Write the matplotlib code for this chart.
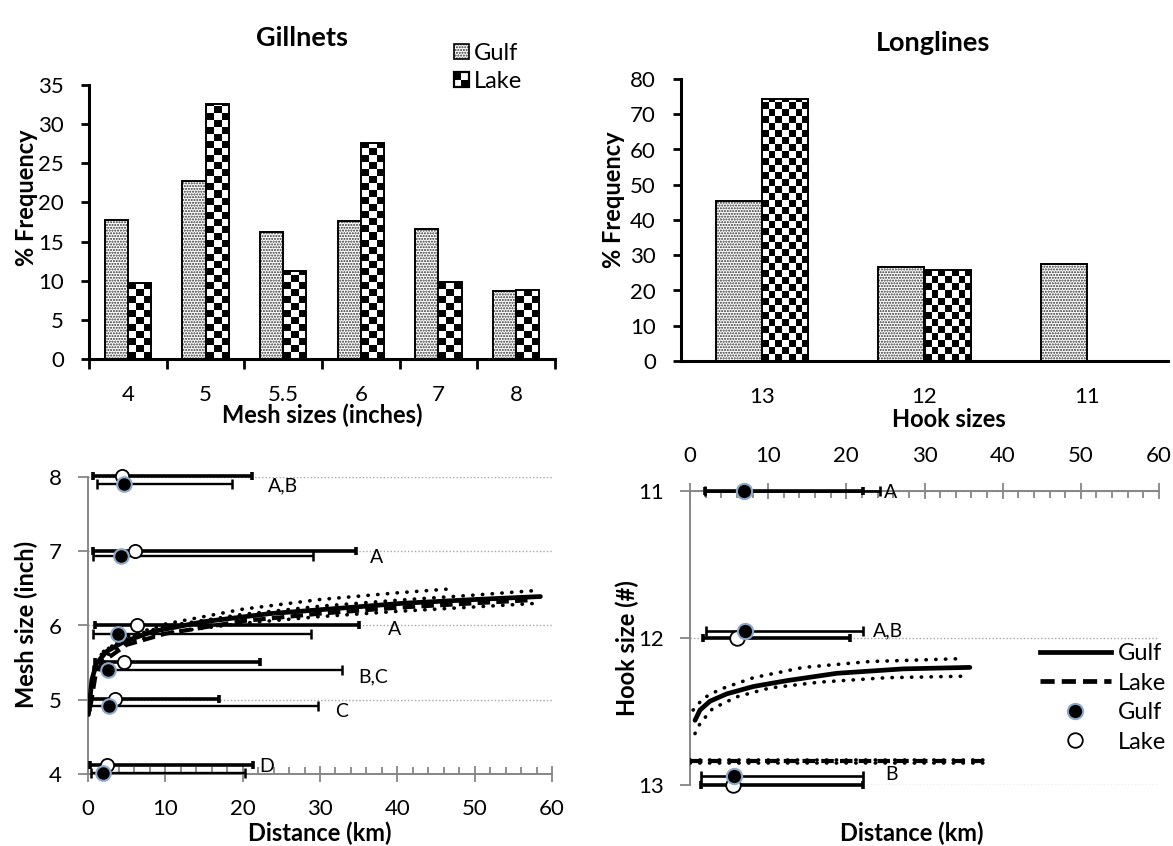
import numpy as np
import matplotlib
matplotlib.use('Agg')
import matplotlib.pyplot as plt
from matplotlib.patches import Rectangle, Patch
from matplotlib.lines import Line2D
from matplotlib.legend_handler import HandlerBase
from matplotlib.ticker import MultipleLocator

plt.rcParams['font.family'] = ['Lato', 'DejaVu Sans']
plt.rcParams['hatch.linewidth'] = 1.0

# ---- top left: gillnet mesh frequencies
mesh_labels = ['4', '5', '5.5', '6', '7', '8']
mesh_gulf = [17.8, 22.8, 16.2, 17.6, 16.6, 8.7]
mesh_lake = [9.7, 32.6, 11.3, 27.6, 9.8, 8.8]

# ---- top right: longline hook frequencies
hook_labels = ['13', '12', '11']
hook_gulf = [45.3, 26.7, 27.6]
hook_lake = [74.2, 25.9, 0.0]

# ---- bottom left: distance by mesh size (points, error bar ends, letters)
gill_gulf_km = [2.0, 2.75, 2.6, 3.9, 4.3, 4.65]
gill_gulf_y = [4.02, 4.91, 5.40, 5.89, 6.93, 7.91]
gill_gulf_lo = [0.4, 0.3, 0.6, 0.6, 0.6, 1.1]
gill_gulf_hi = [20.3, 29.8, 32.9, 28.8, 29.1, 18.6]
gill_lake_km = [2.4, 3.5, 4.7, 6.3, 6.1, 4.35]
gill_lake_y = [4.12, 5.01, 5.51, 6.01, 7.01, 8.01]
gill_lake_lo = [0.2, 0.2, 0.9, 0.9, 0.7, 0.7]
gill_lake_hi = [21.3, 16.9, 22.2, 35.0, 34.7, 21.2]
gill_letters = ['D', 'C', 'B,C', 'A', 'A', 'A,B']
gill_letter_x = [22.2, 31.9, 34.9, 38.8, 36.4, 23.3]
gill_letter_y = [4.10, 4.84, 5.31, 5.94, 6.92, 7.88]

# trend lines
gill_fit_gulf_x = [0.05, 0.5, 1.1, 2.4, 4.6, 8.4, 14.9, 23.5, 32.2, 40.8, 50.0, 58.5]
gill_fit_gulf_y = [4.80, 5.27, 5.49, 5.65, 5.78, 5.92, 6.05, 6.16, 6.23, 6.30, 6.35, 6.39]
gill_fit_lake_x = [0.3, 1.0, 2.0, 5.0, 10.0, 20.0, 30.0, 40.0, 50.0, 57.0]
gill_fit_lake_y = [4.90, 5.35, 5.52, 5.74, 5.89, 6.06, 6.16, 6.24, 6.30, 6.34]
gill_band_a_x = [2.0, 5.0, 10.0, 20.0, 30.0, 40.0, 46.5]
gill_band_a_y = [5.65, 5.85, 6.02, 6.22, 6.35, 6.44, 6.49]
gill_band_b_x = [1.0, 2.0, 5.0, 10.0, 20.0, 30.0, 40.0, 50.0, 57.8]
gill_band_b_y = [5.50, 5.65, 5.84, 5.99, 6.15, 6.26, 6.34, 6.41, 6.47]
gill_band_c_x = [1.0, 2.0, 5.0, 10.0, 20.0, 30.0, 40.0, 50.0, 58.2]
gill_band_c_y = [5.42, 5.57, 5.76, 5.90, 6.03, 6.12, 6.19, 6.25, 6.30]

# ---- bottom right: distance by hook size
long_gulf_km = [6.9, 7.0, 5.6]
long_gulf_y = [11.0, 11.95, 12.94]
long_gulf_lo = [1.9, 2.1, 1.4]
long_gulf_hi = [24.3, 22.1, 22.1]
long_lake_km = [np.nan, 6.0, 5.5]
long_lake_y = [11.0, 12.0, 13.0]
long_lake_lo = [1.9, 1.7, 1.4]
long_lake_hi = [22.1, 20.5, 22.1]
long_letters = ['A', 'A,B', 'B']
long_letter_x = [24.8, 23.4, 25.0]
long_letter_y = [11.01, 11.95, 12.93]

long_fit_gulf_x = [0.64, 1.28, 2.56, 4.7, 8.1, 12.4, 18.8, 27.3, 35.8]
long_fit_gulf_y = [12.56, 12.49, 12.43, 12.38, 12.33, 12.29, 12.24, 12.21, 12.20]
long_band_up_x = [0.4, 1.7, 3.8, 8.1, 14.5, 23.0, 35.0]
long_band_up_y = [12.49, 12.41, 12.35, 12.27, 12.20, 12.16, 12.14]
long_band_lo_x = [0.64, 1.3, 2.9, 6.0, 10.2, 16.6, 25.2, 35.0]
long_band_lo_y = [12.65, 12.58, 12.48, 12.40, 12.34, 12.30, 12.27, 12.26]
long_fit_lake_x = [0.0, 37.7]
long_fit_lake_y = [12.84, 12.84]

GRAY = '#868686'
BLUE_EDGE = '#8EA9C8'
TICK_FS = 16
LABEL_FS = 17
W, H = 1173, 846
fig = plt.figure(figsize=(W / 100, H / 100), dpi=100)


def box(l, t, r, b):
    return [l / W, 1 - b / H, (r - l) / W, (b - t) / H]


def checker(ax, rect, cell=7.0):
    x, y = rect.get_x(), rect.get_y()
    w, h = rect.get_width(), rect.get_height()
    if h <= 0:
        return
    (px0, py0), (px1, py1) = ax.transData.transform([(x, y), (x + w, y + h)])
    nx = max(1, int(round((px1 - px0) / cell)))
    cy = cell * h / (py1 - py0)
    ny = int(np.ceil(h / cy))
    img = np.indices((ny, nx)).sum(axis=0) % 2
    im = ax.imshow(img, cmap='gray', extent=(x, x + w, y, y + ny * cy), origin='lower',
                   interpolation='nearest', aspect='auto', zorder=2)
    im.set_clip_path(rect)


def bar_panel(ax, gulf, lake, width, ymax):
    x = np.arange(len(gulf))
    ax.set_xlim(-0.5, len(gulf) - 0.5)
    ax.set_ylim(0, ymax)
    ax.bar(x - width / 2, gulf, width, color='white', edgecolor='#303030', hatch='......',
           linewidth=0, zorder=2)
    ax.bar(x - width / 2, gulf, width, fill=False, edgecolor='black', linewidth=1.4, zorder=4)
    lake_bars = ax.bar(x + width / 2, lake, width, color='white', linewidth=0, zorder=2)
    for r in lake_bars:
        checker(ax, r)
    ax.bar(x + width / 2, lake, width, fill=False, edgecolor='black', linewidth=1.4, zorder=4)
    ax.set_xlim(-0.5, len(gulf) - 0.5)
    ax.set_ylim(0, ymax)
    for s in ['top', 'right']:
        ax.spines[s].set_visible(False)
    for s in ['left', 'bottom']:
        ax.spines[s].set_linewidth(2.2)
    ax.tick_params(axis='y', labelsize=TICK_FS, length=6, width=2, pad=12)
    ax.set_ylabel('% Frequency', fontsize=LABEL_FS, fontweight='bold')
    ax.yaxis.label.set_va('center')


class GulfSwatch(HandlerBase):
    def create_artists(self, legend, orig, xd, yd, w, h, fontsize, trans):
        s = h
        x0, y0 = -xd + (w - s) / 2, -yd
        return [Rectangle((x0, y0), s, s, facecolor='white', edgecolor='#303030', hatch='......',
                          linewidth=0, transform=trans),
                Rectangle((x0, y0), s, s, fill=False, edgecolor='black', linewidth=1.2, transform=trans)]


class LakeSwatch(HandlerBase):
    def create_artists(self, legend, orig, xd, yd, w, h, fontsize, trans):
        s = h
        x0, y0 = -xd + (w - s) / 2, -yd
        c = s / 2
        arts = [Rectangle((x0, y0), s, s, facecolor='white', edgecolor='none', transform=trans)]
        for i in range(2):
            for j in range(2):
                if (i + j) % 2 == 1:
                    arts.append(Rectangle((x0 + i * c, y0 + j * c), c, c, facecolor='black',
                                          edgecolor='none', transform=trans))
        arts.append(Rectangle((x0, y0), s, s, fill=False, edgecolor='black', linewidth=1.6,
                              transform=trans))
        return arts


# ---------------- top left
ax1 = fig.add_axes(box(89, 85, 555, 359))
bar_panel(ax1, mesh_gulf, mesh_lake, 0.3, 35)
ax1.set_yticks(range(0, 36, 5))
ax1.set_xticks(np.arange(len(mesh_labels) + 1) - 0.5)
ax1.set_xticklabels([])
ax1.tick_params(axis='x', which='major', length=7, width=2, direction='out')
ax1.set_xticks(np.arange(len(mesh_labels)), minor=True)
ax1.set_xticklabels(mesh_labels, minor=True)
ax1.tick_params(axis='x', which='minor', length=0, labelsize=TICK_FS, pad=19)
ax1.set_xlabel('Mesh sizes (inches)', fontsize=LABEL_FS, fontweight='bold')
ax1.xaxis.label.set_va('center')
ax1.xaxis.set_label_coords(0.5, -0.204)
ax1.yaxis.set_label_coords(-0.135, 0.588)
fig.text(302 / W, 1 - 38 / H, 'Gillnets', fontsize=19.5, fontweight='bold', ha='center', va='center')

gulf_h, lake_h = Patch(), Patch()
fig.legend([gulf_h, lake_h], ['Gulf', 'Lake'], loc='upper left',
           bbox_to_anchor=(454 / W, 1 - 43 / H), frameon=False, fontsize=17,
           handlelength=0.6, handleheight=0.6, handletextpad=0.25, labelspacing=0.3,
           borderpad=0, borderaxespad=0,
           handler_map={gulf_h: GulfSwatch(), lake_h: LakeSwatch()})

# ---------------- top right
ax2 = fig.add_axes(box(681, 79, 1168, 361))
bar_panel(ax2, hook_gulf, hook_lake, 0.285, 80)
ax2.set_yticks(range(0, 81, 10))
ax2.set_xticks(np.arange(len(hook_labels)))
ax2.set_xticklabels(hook_labels)
ax2.tick_params(axis='x', length=0, labelsize=TICK_FS, pad=19)
ax2.set_xlabel('Hook sizes', fontsize=LABEL_FS, fontweight='bold')
ax2.xaxis.label.set_va('center')
ax2.xaxis.set_label_coords(0.55, -0.209)
ax2.yaxis.set_label_coords(-0.138, 0.571)
fig.text(933 / W, 1 - 43 / H, 'Longlines', fontsize=19.5, fontweight='bold', ha='center', va='center')


def style_distance_axes(ax):
    ax.set_xlim(0, 60)
    ax.xaxis.set_major_locator(MultipleLocator(10))
    ax.xaxis.set_minor_locator(MultipleLocator(2))
    ax.tick_params(axis='x', which='major', direction='inout', length=12, width=1.3, color=GRAY,
                   labelsize=TICK_FS)
    ax.tick_params(axis='x', which='minor', direction='in', length=5, width=1.3, color=GRAY)
    ax.tick_params(axis='y', direction='out', length=7, width=1.3, color=GRAY, labelsize=TICK_FS, pad=12)
    ax.grid(axis='y', color='#A6A6A6', linestyle=(0, (1, 1.5)), linewidth=1.0)
    ax.set_axisbelow(True)
    ax.spines['right'].set_visible(False)
    for s in ['left', 'top', 'bottom']:
        ax.spines[s].set_color(GRAY)
        ax.spines[s].set_linewidth(1.4)


def error_bars(ax, lo, hi, y, lw, cap, capw):
    lo = np.asarray(lo)
    hi = np.asarray(hi)
    eb = ax.errorbar(lo, y, xerr=[np.zeros_like(lo), hi - lo], fmt='none', ecolor='black',
                     elinewidth=lw, capsize=cap, capthick=capw, zorder=3)
    for art in list(eb.lines[1]) + list(eb.lines[2]):
        art.set_clip_on(False)


dotted = dict(color='black', linestyle=(0, (0.1, 2.6)), linewidth=2.6,
              dash_capstyle='round', zorder=3)

# ---------------- bottom left
ax3 = fig.add_axes(box(88, 477, 552, 774))
style_distance_axes(ax3)
ax3.spines['top'].set_visible(False)
ax3.set_ylim(4, 8)
ax3.set_yticks(range(4, 9))
ax3.tick_params(axis='x', which='major', pad=12)
ax3.plot(gill_band_a_x, gill_band_a_y, **dotted)
ax3.plot(gill_band_b_x, gill_band_b_y, **dotted)
ax3.plot(gill_band_c_x, gill_band_c_y, **dotted)
ax3.plot(gill_fit_lake_x, gill_fit_lake_y, color='black', linestyle=(0, (3, 1.5)), linewidth=3,
         zorder=3)
ax3.plot(gill_fit_gulf_x, gill_fit_gulf_y, color='black', linewidth=3.4, zorder=3,
         solid_capstyle='round')
error_bars(ax3, gill_gulf_lo, gill_gulf_hi, gill_gulf_y, 1.7, 3.6, 1.8)
error_bars(ax3, gill_lake_lo, gill_lake_hi, gill_lake_y, 2.6, 3.0, 2.6)
ax3.plot(gill_lake_km, gill_lake_y, 'o', ms=9.5, mfc='white', mec='black', mew=1.3, zorder=4,
         clip_on=False)
ax3.plot(gill_gulf_km, gill_gulf_y, 'o', ms=10.5, mfc='black', mec=BLUE_EDGE, mew=1.5, zorder=5,
         clip_on=False)
for t, x, y in zip(gill_letters, gill_letter_x, gill_letter_y):
    ax3.text(x, y, t, fontsize=14, ha='left', va='center', zorder=6)
ax3.set_xlabel('Distance (km)', fontsize=LABEL_FS, fontweight='bold')
ax3.xaxis.label.set_va('center')
ax3.xaxis.set_label_coords(0.5, -0.199)
ax3.set_ylabel('Mesh size (inch)', fontsize=LABEL_FS, fontweight='bold')
ax3.yaxis.label.set_va('center')
ax3.yaxis.set_label_coords(-0.134, 0.502)

# ---------------- bottom right
ax4 = fig.add_axes(box(690, 491, 1159, 785))
style_distance_axes(ax4)
ax4.spines['bottom'].set_visible(False)
ax4.set_ylim(13, 11)
ax4.set_yticks([11, 12, 13])
ax4.xaxis.tick_top()
ax4.tick_params(axis='x', which='both', top=True, bottom=False, labeltop=True, labelbottom=False)
ax4.tick_params(axis='x', which='major', pad=12)
ax4.plot(long_band_up_x, long_band_up_y, **dotted)
ax4.plot(long_band_lo_x, long_band_lo_y, **dotted)
ax4.plot(long_fit_gulf_x, long_fit_gulf_y, color='black', linewidth=3.4, zorder=3,
         solid_capstyle='round')
ax4.plot(long_fit_lake_x, long_fit_lake_y, color='black', linestyle=(0, (3, 1.5)), linewidth=3,
         zorder=3)
ax4.plot(long_fit_lake_x, [v - 0.01 for v in long_fit_lake_y], **dotted)
ax4.plot(long_fit_lake_x, [v + 0.01 for v in long_fit_lake_y], **dotted)
error_bars(ax4, long_lake_lo, long_lake_hi, long_lake_y, 2.6, 3.0, 2.6)
error_bars(ax4, long_gulf_lo, long_gulf_hi, long_gulf_y, 1.9, 3.6, 1.9)
ax4.plot(long_lake_km, long_lake_y, 'o', ms=10.5, mfc='white', mec='black', mew=1.3, zorder=4,
         clip_on=False)
ax4.plot(long_gulf_km, long_gulf_y, 'o', ms=11, mfc='black', mec=BLUE_EDGE, mew=1.5, zorder=5,
         clip_on=False)
for t, x, y in zip(long_letters, long_letter_x, long_letter_y):
    ax4.text(x, y, t, fontsize=14, ha='left', va='center', zorder=6)
ax4.set_xlabel('Distance (km)', fontsize=LABEL_FS, fontweight='bold')
ax4.xaxis.set_label_position('bottom')
ax4.xaxis.label.set_va('center')
ax4.xaxis.set_label_coords(0.473, -0.163)
ax4.set_ylabel('Hook size (#)', fontsize=LABEL_FS, fontweight='bold')
ax4.yaxis.label.set_va('center')
ax4.yaxis.set_label_coords(-0.134, 0.466)

leg_handles = [Line2D([], [], color='black', linewidth=3.4),
               Line2D([], [], color='black', linewidth=3.4, linestyle=(0, (3, 1.5))),
               Line2D([], [], linestyle='none', marker='o', ms=11, mfc='black', mec=BLUE_EDGE, mew=1.5),
               Line2D([], [], linestyle='none', marker='o', ms=10.5, mfc='white', mec='black', mew=1.3)]
fig.legend(leg_handles, ['Gulf', 'Lake', 'Gulf', 'Lake'], loc='upper left',
           bbox_to_anchor=(1040 / W, 1 - 643 / H), frameon=False, fontsize=17,
           handlelength=3.0, handletextpad=0.3, labelspacing=0.36, borderpad=0, borderaxespad=0)

fig.savefig('out.png', dpi=100)
